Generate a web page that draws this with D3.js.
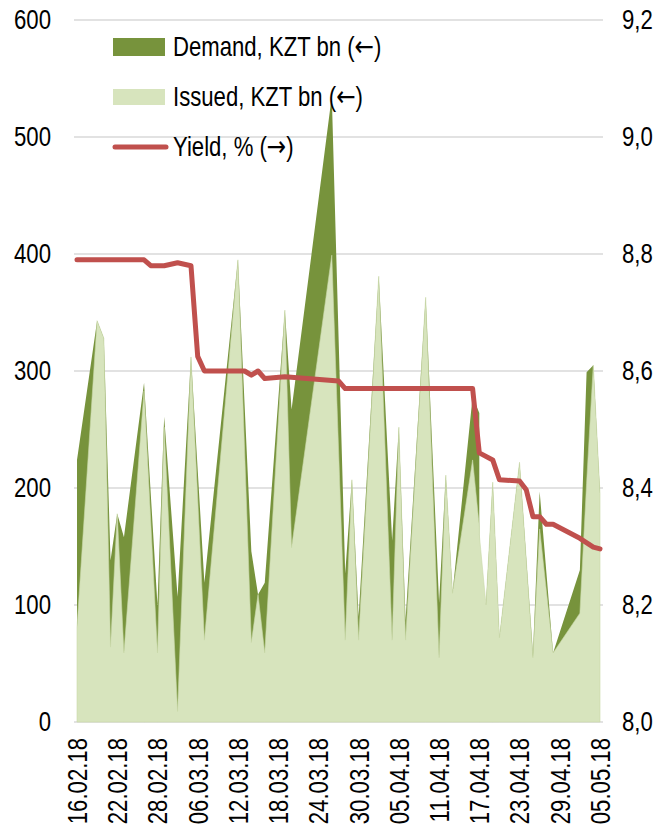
<!DOCTYPE html>
<html>
<head>
<meta charset="utf-8">
<script src="https://cdn.jsdelivr.net/npm/d3@7"></script>
<style>
  html, body { margin: 0; padding: 0; background: #fff; }
  svg { display: block; }
  text { font-family: "Liberation Sans", Arial, sans-serif; fill: #000; }
  .arrow { font-family: "DejaVu Sans", sans-serif; }
</style>
</head>
<body>
<svg id="chart" width="663" height="836"></svg>
<script>
// ---- data ----
const auctionDates = ["16.02.18","19.02.18","20.02.18","21.02.18","22.02.18","23.02.18","26.02.18","28.02.18",
  "01.03.18","03.03.18","05.03.18","07.03.18","12.03.18","14.03.18","15.03.18","16.03.18","19.03.18","20.03.18",
  "26.03.18","28.03.18","29.03.18","30.03.18","02.04.18","04.04.18","05.04.18","06.04.18","09.04.18","11.04.18",
  "12.04.18","13.04.18","16.04.18","17.04.18","17.04.18","18.04.18","19.04.18","20.04.18","23.04.18","25.04.18",
  "26.04.18","28.04.18","02.05.18","03.05.18","04.05.18","05.05.18"];
const demand = [224,343,328,138,178,158,290,100,
  261,107,312,119,395,146,109,119,352,267,
  535,127,207,90,381,155,252,87,363,102,
  211,110,278,264,113,100,205,72,222,58,
  197,59,130,299,305,195];
const issued = [81,343,328,64,178,59,283,59,
  252,9,312,70,395,68,109,59,352,149,
  399,70,207,70,381,70,252,70,363,55,
  211,110,224,167,160,100,205,72,222,55,
  165,59,93,204,305,195];

const yieldDates = ["16.02.18","26.02.18","27.02.18","01.03.18","03.03.18","05.03.18","06.03.18","07.03.18",
  "13.03.18","14.03.18","15.03.18","16.03.18","19.03.18","27.03.18","28.03.18","16.04.18","17.04.18","19.04.18",
  "20.04.18","23.04.18","24.04.18","25.04.18","26.04.18","27.04.18","28.04.18","02.05.18","04.05.18","05.05.18"];
const yieldPct = [8.79,8.79,8.78,8.78,8.785,8.78,8.625,8.60,
  8.60,8.593,8.60,8.587,8.59,8.583,8.57,8.57,8.46,8.448,
  8.414,8.412,8.397,8.351,8.351,8.338,8.338,8.314,8.299,8.296];

const xTickLabels = ["16.02.18","22.02.18","28.02.18","06.03.18","12.03.18","18.03.18","24.03.18",
  "30.03.18","05.04.18","11.04.18","17.04.18","23.04.18","29.04.18","05.05.18"];
const leftTicks = [0,100,200,300,400,500,600];
const rightTicks = [8.0,8.2,8.4,8.6,8.8,9.0,9.2];
const legendLabels = [["Demand, KZT bn (", "\u2190", ")"], ["Issued, KZT bn (", "\u2190", ")"], ["Yield, % (", "\u2192", ")"]];

// ---- drawing ----
const parse = d3.utcParse("%d.%m.%y");
const svg = d3.select("#chart");
const plotLeft = 74, plotRight = 603, plotTop = 20, plotBottom = 722;
const NARROW = 0.82; // condensed look of the original typeface

function condense(sel) {
  sel.each(function () {
    const len = this.getComputedTextLength();
    d3.select(this).attr("textLength", (len * NARROW).toFixed(1)).attr("lengthAdjust", "spacingAndGlyphs");
  });
}

const x = d3.scaleUtc()
  .domain([parse("16.02.18"), parse("05.05.18")])
  .range([77, 600]);
const yL = d3.scaleLinear().domain([0, 600]).range([plotBottom, plotTop]);
const yR = d3.scaleLinear().domain([8.0, 9.2]).range([plotBottom, plotTop]);

const C_DEMAND = "#77933C", C_ISSUED = "#D7E4BD", C_YIELD = "#C0504D";

// gridlines
svg.append("g").selectAll("line").data(leftTicks).join("line")
  .attr("x1", plotLeft).attr("x2", plotRight)
  .attr("y1", d => yL(d)).attr("y2", d => yL(d))
  .attr("stroke", "#D9D9D9").attr("stroke-width", 1.5);

const aData = auctionDates.map((d, i) => ({ date: parse(d), d: demand[i], s: issued[i] }));

svg.append("path").datum(aData)
  .attr("fill", C_DEMAND)
  .attr("d", d3.area().x(d => x(d.date)).y0(yL(0)).y1(d => yL(d.d)));
svg.append("path").datum(aData)
  .attr("fill", C_ISSUED)
  .attr("stroke", "#CAD9AA").attr("stroke-width", 0.6)
  .attr("d", d3.area().x(d => x(d.date)).y0(yL(0)).y1(d => yL(d.s)));

const yData = yieldDates.map((d, i) => ({ date: parse(d), v: yieldPct[i] }));
svg.append("path").datum(yData)
  .attr("fill", "none").attr("stroke", C_YIELD).attr("stroke-width", 5)
  .attr("stroke-linejoin", "round").attr("stroke-linecap", "round")
  .attr("d", d3.line().x(d => x(d.date)).y(d => yR(d.v)));

// axes
const fs = 27;
const gL = svg.append("g").attr("transform", `translate(${plotLeft},0)`)
  .call(d3.axisLeft(yL).tickValues(leftTicks).tickSize(0).tickPadding(23).tickFormat(d3.format("d")));
gL.select(".domain").remove();
gL.selectAll("text").attr("font-size", fs).style("font-family", null).call(condense);

const gR = svg.append("g").attr("transform", `translate(${plotRight},0)`)
  .call(d3.axisRight(yR).tickValues(rightTicks).tickSize(0).tickPadding(19)
    .tickFormat(d => d3.format(".1f")(d).replace(".", ",")));
gR.select(".domain").remove();
gR.selectAll("text").attr("font-size", fs).style("font-family", null).call(condense);

const gX = svg.append("g").attr("transform", `translate(0,${plotBottom})`)
  .call(d3.axisBottom(x).tickValues(xTickLabels.map(parse)).tickSize(0)
    .tickFormat(d3.utcFormat("%d.%m.%y")));
gX.select(".domain").remove();
gX.selectAll("text")
  .attr("font-size", fs).style("font-family", null)
  .attr("text-anchor", "end")
  .attr("transform", "rotate(-90)")
  .attr("x", -16).attr("y", 0).attr("dy", "0.35em")
  .call(condense);

// legend
const leg = svg.append("g");
const rowY = [47, 97, 147];
leg.append("rect").attr("x", 113).attr("y", rowY[0] - 9).attr("width", 52).attr("height", 18).attr("fill", C_DEMAND);
leg.append("rect").attr("x", 113).attr("y", rowY[1] - 8).attr("width", 52).attr("height", 16).attr("fill", C_ISSUED);
leg.append("line").attr("x1", 115).attr("x2", 166).attr("y1", rowY[2]).attr("y2", rowY[2])
  .attr("stroke", C_YIELD).attr("stroke-width", 5).attr("stroke-linecap", "round");
const lg = leg.selectAll("g.item").data(legendLabels).join("g")
  .attr("class", "item")
  .attr("transform", (d, i) => `translate(173,${rowY[i] + 9}) scale(${NARROW},1)`);
const lt = lg.append("text").attr("x", 0).attr("y", 0).attr("font-size", fs);
lt.append("tspan").text(d => d[0]);
lt.append("tspan").attr("class", "arrow").attr("font-size", fs * 1.05).text(d => d[1]);
lt.append("tspan").text(d => d[2]);
</script>
</body>
</html>
